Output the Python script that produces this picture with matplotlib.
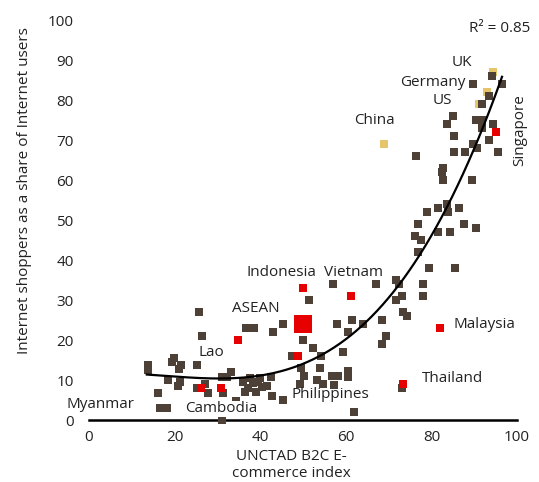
import matplotlib
matplotlib.use("Agg")
import matplotlib.pyplot as plt
import numpy as np

plt.rcParams['font.family'] = ['Open Sans', 'DejaVu Sans']

# ---- data ----
dark_x = [94.2, 96.5, 89.7, 93.5, 91.8, 85.0, 83.6, 90.4, 91.8, 94.4, 91.8, 85.3, 93.5, 89.7, 90.7,
          85.3, 87.9, 95.6, 76.4, 82.7, 82.5, 82.7, 89.5, 81.5, 83.6, 83.9, 86.4, 79.0, 76.9, 87.6,
          90.4, 81.5, 84.3, 76.2, 77.6, 76.9, 79.4, 85.5, 71.7, 67.0, 72.4, 78.0, 73.1, 78.0, 57.0,
          51.4, 71.7, 73.4, 74.3,
          61.4, 57.9, 64.0, 68.5, 45.3, 43.0, 60.5, 69.4, 68.5, 50.0, 52.3, 59.3, 47.4, 54.2, 49.5,
          54.0, 42.5, 50.2, 53.3, 56.8, 58.2, 60.5, 60.5, 49.3, 54.7, 57.2, 42.8, 45.3, 61.9, 73.1,
          25.7, 36.6, 38.6, 26.4, 13.8, 13.8, 19.9, 19.4, 21.5, 21.0, 25.2, 18.5, 21.3, 20.8, 16.1,
          16.6, 18.2, 25.2, 27.8, 31.3, 33.2, 31.0, 32.2, 37.1, 38.3, 39.5, 40.4, 39.0, 36.0, 37.5,
          40.0, 41.5, 36.5, 31.0, 34.3, 27.1]
dark_y = [86, 84, 84, 81, 79, 76, 74, 75, 75, 74, 73, 71, 70, 69, 68,
          67, 67, 67, 66, 63, 62, 60, 60, 53, 54, 52, 53, 52, 49, 49,
          48, 47, 47, 46, 45, 42, 38, 38, 35, 34, 34, 34, 31, 31, 34,
          30, 30, 27, 26,
          25, 24, 24, 25, 24, 22, 22, 21, 19, 20, 18, 17, 16, 16, 13,
          13, 10.75, 11, 10, 11, 11, 12.25, 10.75, 9, 9, 8.75, 6, 5, 2, 8,
          27, 23, 23, 21, 13.75, 12.5, 15.5, 14.5, 13.75, 12.75, 13.75, 10, 9.5, 8.5, 6.75,
          3, 3, 8, 6.75, 6.75, 12, 10.75, 10.75, 8, 9.25, 9.5, 8.25, 7, 9.5, 10.5,
          10.5, 8.5, 7, 0, 4.75, 9]

red_names = ['Singapore', 'Malaysia', 'Thailand', 'Indonesia', 'Vietnam', 'Lao',
             'Philippines', 'Myanmar', 'Cambodia']
red_x = [95.1, 82.0, 73.4, 50.0, 61.2, 34.8, 48.8, 26.2, 30.8]
red_y = [72, 23, 9, 33, 31, 20, 16, 8, 8]

asean_x = [50.0]
asean_y = [24.0]

gold_names = ['UK', 'Germany', 'US', 'China']
gold_x = [94.4, 93.0, 91.1, 68.9]
gold_y = [87, 82, 79, 69]

# trend line (fitted with a cubic, as in the source)
trend_x = [13.5, 20, 27, 33.6, 42.3, 50, 60.3, 65.7, 69.9, 72.2, 76.2, 82.7, 88.5, 96.5]
trend_y = [11.25, 10.9, 10.5, 10.5, 11.5, 15.0, 19.25, 25.0, 30.5, 33.0, 40.0, 53.25, 63.0, 85.75]
r2_text = 'R² = 0.85'

# label positions
label_text = ['UK', 'Germany', 'US', 'China', 'Indonesia', 'Vietnam', 'ASEAN', 'Malaysia',
              'Lao', 'Thailand', 'Philippines', 'Myanmar', 'Cambodia']
label_x = [87.1, 80.4, 82.5, 66.8, 44.9, 61.7, 39.0, 92.3, 28.7, 85.0, 56.3, 2.6, 30.8]
label_y = [89.5, 84.5, 79.75, 75.0, 36.75, 36.75, 28.0, 23.75, 17.0, 10.5, 6.25, 4.0, 2.75]

y_ticks = [0, 10, 20, 30, 40, 50, 60, 70, 80, 90, 100]
x_ticks = [0, 20, 40, 60, 80, 100]

DARK = '#4d4036'
RED = '#e60000'
GOLD = '#e6c46c'
TXT = '#222222'
FS = 11

fig = plt.figure(figsize=(5.39, 4.82), dpi=100)
ax = fig.add_axes([89/539, 1 - 420/482, (517-89)/539, 400/482])

ms = 29
ax.scatter(gold_x, gold_y, marker='s', s=ms, c=GOLD, linewidths=0, zorder=3, clip_on=False)
ax.scatter(dark_x, dark_y, marker='s', s=ms, c=DARK, linewidths=0, zorder=4, clip_on=False)
ax.scatter(red_x, red_y, marker='s', s=ms, c=RED, linewidths=0, zorder=5, clip_on=False)
ax.scatter(asean_x, asean_y, marker='s', s=150, c=RED, linewidths=0, zorder=5, clip_on=False)

coef = np.polyfit(trend_x, trend_y, 3)
xs = np.linspace(min(trend_x), max(trend_x), 200)
ax.plot(xs, np.polyval(coef, xs), color='black', lw=1.6, zorder=6)

for t, x, y in zip(label_text, label_x, label_y):
    kw = {}
    if t == 'Cambodia':
        kw['bbox'] = dict(facecolor='white', edgecolor='none', pad=0.6)
    ax.text(x, y, t, ha='center', va='center', fontsize=FS, color=TXT, zorder=7, **kw)
ax.text(100.7, 72.4, 'Singapore', ha='center', va='center', rotation=90,
        fontsize=FS, color=TXT, zorder=7)
ax.text(103.0, 98.0, r2_text, ha='right', va='center', fontsize=FS, color=TXT, zorder=7)

ax.set_xlim(0, 100)
ax.set_ylim(0, 100)
ax.set_xticks(x_ticks)
ax.set_yticks(y_ticks)
ax.tick_params(length=0, labelsize=FS, colors=TXT)
ax.tick_params(axis='x', pad=7)
ax.tick_params(axis='y', pad=11)
for s in ['top', 'right', 'left']:
    ax.spines[s].set_visible(False)
ax.spines['bottom'].set_color('black')
ax.spines['bottom'].set_linewidth(1.8)
ax.spines['bottom'].set_zorder(2)

fig.text(0.54, (482-465)/482, 'UNCTAD B2C E-\ncommerce index', ha='center', va='center',
         fontsize=FS, color=TXT, linespacing=1.15)
fig.text(25/539, 1 - 191/482, 'Internet shoppers as a share of Internet users', rotation=90,
         ha='center', va='center', fontsize=FS, color=TXT)

fig.savefig('out.png', dpi=100)
